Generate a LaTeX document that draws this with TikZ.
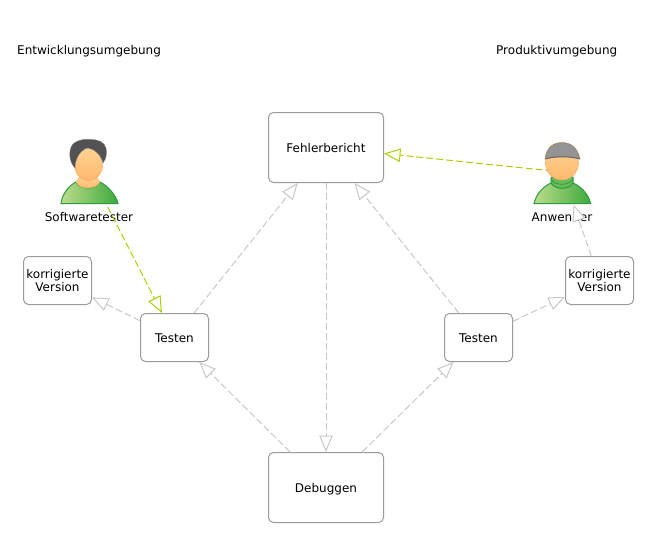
\documentclass[tikz,border=0pt]{standalone}
\usepackage{fontspec}
\setmainfont{DejaVu Sans}
\usetikzlibrary{
    arrows.meta
}
\definecolor{boxgray}{RGB}{155,155,155}
\definecolor{linkgray}{RGB}{200,200,200}
\definecolor{linklime}{RGB}{165,210,0}
\definecolor{skinlight}{RGB}{255,210,145}
\definecolor{skin}{RGB}{255,185,110}
\definecolor{skinedge}{RGB}{245,165,90}
\definecolor{shirtlight}{RGB}{190,220,140}
\definecolor{shirtdark}{RGB}{60,170,60}
\definecolor{shirtedge}{RGB}{45,155,65}
\tikzset{
    % Activity and artefact boxes:
    version box/.style = {
        draw = boxgray,
        line width = 1pt,
        rectangle,
        rounded corners = 5pt,
        align = center,
        font = \fontsize{12}{14}\selectfont,
        minimum width = 68pt,
        minimum height = 48pt,
        inner sep = 0pt
    },
    small box/.style = {
        version box,
        text height = 10pt,
        text depth = 0pt
    },
    big box/.style = {
        small box,
        minimum width = 115pt,
        minimum height = 70pt
    },
    % Invisible frame of a person icon:
    person node/.style = {
        rectangle,
        minimum width = 57pt,
        minimum height = 65pt,
        inner sep = 0pt
    },
    plain text/.style = {
        font = \fontsize{12}{14}\selectfont,
        inner sep = 0pt
    },
    shirt/.style = {
        draw = shirtedge,
        line width = 1pt,
        left color = shirtlight,
        right color = shirtdark
    },
    face/.style = {
        draw = skinedge,
        top color = skinlight,
        bottom color = skin
    },
    % Dependency links:
    link/.style = {
        line width = 1pt,
        dash pattern = on 7pt off 3pt,
        draw = linkgray,
        -{Triangle[length=16.5pt, width=13.5pt, fill=white]}
    },
    lime link/.style = {
        link,
        draw = linklime
    }
}

\begin{document}
\begin{tikzpicture}[x=1pt, y=-1pt]
    \useasboundingbox (0, 0) rectangle (648, 538);
    \node [plain text, anchor=west] (devtitle) at (17, 51.5) {Entwicklungsumgebung};
    \node [plain text, anchor=west] (prodtitle) at (496, 51.5) {Produktivumgebung};

    \node [big box] (fehlerbericht) at (326, 147.5) {Fehlerbericht};
    \node [big box] (debuggen) at (326, 487.5) {Debuggen};
    \node [small box] (testenleft) at (174.5, 337.5) {Testen};
    \node [small box] (testenright) at (478.5, 337.5) {Testen};
    \node [version box] (versionleft) at (57.5, 280.5) {korrigierte\\[-1pt]Version};
    \node [version box] (versionright) at (599.5, 280.5) {korrigierte\\[-1pt]Version};
    \node [person node] (softwaretester) at (89.5, 171.5) {};
    \node [person node] (anwender) at (562.5, 172) {};
    \node [plain text] (testerlabel) at (89, 217) {Softwaretester};
    \node [plain text] (anwenderlabel) at (562, 217) {Anwender};

    \draw [lime link] (softwaretester.center) -- (testenleft);
    \draw [lime link] (anwender.center) -- (fehlerbericht);

    % Softwaretester icon
    \path [shirt]
        (61, 203.5)
        .. controls (62, 195) and (68, 186) .. (76, 182)
        .. controls (80, 190) and (96, 190) .. (100, 182)
        .. controls (108, 186) and (116, 195) .. (118, 203.5)
        -- cycle;
    \path [face]
        (76, 182) .. controls (80, 190) and (96, 190) .. (100, 182)
        -- (96, 176) -- (80, 176) -- cycle;
    \path [face] (88.5, 165) ellipse [x radius=14, y radius=15.5];
    \path [draw=black!50, fill=black!68]
        (75, 168)
        .. controls (69, 162) and (68, 150) .. (73, 144)
        .. controls (80, 138) and (90, 139) .. (96, 140)
        .. controls (103, 141) and (107, 146) .. (106.5, 153)
        .. controls (106, 158) and (105, 161) .. (103, 163)
        .. controls (101, 155) and (95, 149) .. (88, 148)
        .. controls (81, 149) and (75, 158) .. (75, 168)
        -- cycle;

    % Anwender icon
    \path [shirt]
        (534, 203.5)
        .. controls (536, 195) and (542, 187) .. (551, 183)
        -- (573, 183)
        .. controls (582, 187) and (589, 195) .. (590.5, 203.5)
        -- cycle;
    \path [draw=shirtedge, line width=1pt, fill=shirtdark!65!shirtlight]
        (551, 177) -- (551, 183)
        .. controls (555, 190) and (569, 190) .. (573, 183)
        -- (573, 177) -- cycle;
    \draw [shirtedge, line width=0.8pt] (551, 179) .. controls (555, 186) and (569, 186) .. (573, 179);
    \path [face] (562, 163) ellipse [x radius=16.5, y radius=17];
    \path [draw=skinedge!70!black, fill=black!42]
        (545, 159)
        .. controls (546, 149) and (552, 142.5) .. (562, 142.5)
        .. controls (572, 142.5) and (578, 149) .. (580, 159)
        .. controls (570, 156) and (555, 156) .. (545, 159)
        -- cycle;
    \draw [black!60, line width=1pt]
        (545, 159) .. controls (555, 156) and (570, 156) .. (580, 159);

    \draw [link] (fehlerbericht) -- (debuggen);
    \draw [link] (testenleft) -- (fehlerbericht);
    \draw [link] (testenright) -- (fehlerbericht);
    \draw [link] (debuggen) -- (testenleft);
    \draw [link] (debuggen) -- (testenright);
    \draw [link] (testenleft) -- (versionleft);
    \draw [link] (testenright) -- (versionright);
    \draw [link] (versionright) -- (anwender);
\end{tikzpicture}
\end{document}
